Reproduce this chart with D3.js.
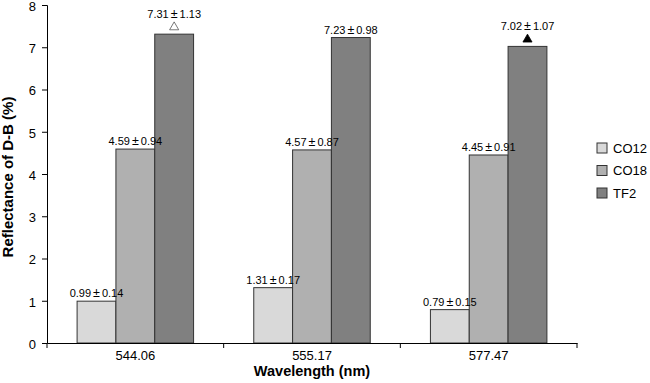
<!DOCTYPE html>
<html><head><meta charset="utf-8">
<script src="https://cdn.jsdelivr.net/npm/d3@7"></script>
<style>body{margin:0;background:#fff}text{font-family:"Liberation Sans",Arial,sans-serif}</style>
</head><body>
<svg id="c" width="650" height="383"></svg>
<script>
const categories = ["544.06", "555.17", "577.47"];
const seriesNames = ["CO12", "CO18", "TF2"];
const co12 = [0.99, 1.31, 0.79];
const co18 = [4.59, 4.57, 4.45];
const tf2 = [7.31, 7.23, 7.02];
const co12Err = [0.14, 0.17, 0.15];
const co18Err = [0.94, 0.87, 0.91];
const tf2Err = [1.13, 0.98, 1.07];
const markers = [["", "", "open"], ["", "", ""], ["", "", "filled"]]; // [category][series]
const yTicks = [0, 1, 2, 3, 4, 5, 6, 7, 8];
const colors = ["#d9d9d9", "#b0b0b0", "#808080"];

const values = [co12, co18, tf2];
const errs = [co12Err, co18Err, tf2Err];

const svg = d3.select("#c");
const mLeft = 47, mRight = 577, mTop = 5, mBottom = 343;
const x0 = d3.scaleBand().domain(categories).range([mLeft, mRight]).padding(0);
const x1 = d3.scaleBand().domain(seriesNames).range([0, x0.bandwidth()]).paddingInner(0).paddingOuter(0.775);
const y = d3.scaleLinear().domain([0, 8]).range([mBottom, mTop]);

const items = [];
categories.forEach((c, ci) => seriesNames.forEach((s, si) => items.push({c, ci, s, si, v: values[si][ci], e: errs[si][ci], m: markers[ci][si]})));

// bars
svg.selectAll(".bar").data(items).enter().append("rect")
  .attr("x", d => x0(d.c) + x1(d.s)).attr("y", d => y(d.v))
  .attr("width", x1.bandwidth()).attr("height", d => y(0) - y(d.v))
  .attr("fill", d => colors[d.si]).attr("stroke", "#333").attr("stroke-width", 1);

// markers
const tri = d3.symbol().type(d3.symbolTriangle).size(36);
items.filter(d => d.m).forEach(d => {
  const cx = x0(d.c) + x1(d.s) + x1.bandwidth() / 2;
  svg.append("path").attr("d", tri)
    .attr("transform", `translate(${cx},${y(d.v) - 7})`)
    .attr("fill", d.m === "filled" ? "#000" : "#fff")
    .attr("stroke", d.m === "filled" ? "#000" : "#555").attr("stroke-width", 0.8);
});

// value labels
items.forEach(d => {
  const cx = x0(d.c) + x1(d.s) + x1.bandwidth() / 2;
  const ly = d.m ? y(d.v) - 16 : y(d.v) - 4;
  const t = svg.append("text").attr("x", cx).attr("y", ly)
    .attr("text-anchor", "middle").attr("font-size", 11).attr("fill", "#000");
  t.append("tspan").text(d.v.toFixed(2));
  t.append("tspan").attr("dx", 2).attr("font-size", 12.5).text("±");
  t.append("tspan").attr("dx", 2).text(d.e.toFixed(2));
});

// y axis
const ya = svg.append("g").attr("transform", `translate(${mLeft},0)`)
  .call(d3.axisLeft(y).tickValues(yTicks).tickSize(5).tickFormat(d3.format("d")));
ya.select(".domain").attr("stroke", "#000");
ya.selectAll(".tick line").attr("stroke", "#000");
ya.selectAll("text").attr("font-size", 13).attr("fill", "#000").attr("x", -11).attr("dy", "0.42em");

// x axis
const xa = svg.append("g").attr("transform", `translate(0,${mBottom})`)
  .call(d3.axisBottom(x0).tickSize(0).tickSizeOuter(0));
xa.select(".domain").attr("stroke", "#000");
xa.selectAll("text").attr("font-size", 13).attr("fill", "#000").attr("y", 8).attr("dy", "0.71em");
const boundaries = [x0.range()[0]].concat(categories.map(c => x0(c) + x0.bandwidth()));
svg.selectAll(".bt").data(boundaries).enter().append("line")
  .attr("x1", d => d).attr("x2", d => d).attr("y1", mBottom).attr("y2", mBottom + 5)
  .attr("stroke", "#000");

// titles
svg.append("text").attr("x", (mLeft + mRight) / 2).attr("y", 376)
  .attr("text-anchor", "middle").attr("font-size", 14.5).attr("font-weight", "bold").text("Wavelength (nm)");
svg.append("text").attr("transform", `translate(12.5,177) rotate(-90)`)
  .attr("text-anchor", "middle").attr("font-size", 15).attr("font-weight", "bold").text("Reflectance of D-B (%)");

// legend
seriesNames.forEach((s, i) => {
  const ly = 148 + i * 22.5;
  svg.append("rect").attr("x", 597).attr("y", ly - 5).attr("width", 10).attr("height", 10)
    .attr("fill", colors[i]).attr("stroke", "#333");
  svg.append("text").attr("x", 613).attr("y", ly + 4.7).attr("font-size", 13).text(s);
});
</script>
</body></html>
